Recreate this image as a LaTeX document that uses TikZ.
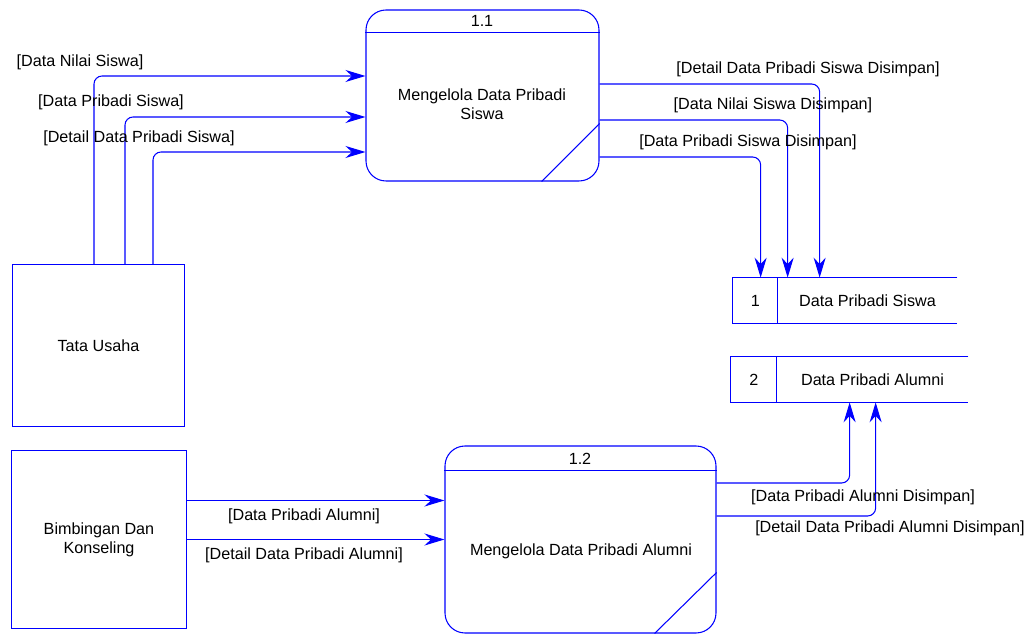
\documentclass[tikz,border=0pt]{standalone}
\usepackage{fontspec}
\setmainfont{Liberation Sans}
\usetikzlibrary{arrows.meta,positioning}
\def \px {0.02cm}

\begin{document}
\begin{tikzpicture}[x=\px,y=-\px,
    every node/.style={font=\fontsize{9.2}{11}\selectfont,inner sep=0},
    entity/.style={draw=blue,line width=0.6pt,align=center},
    process/.style={draw=blue,line width=0.6pt,rounded corners=20*\px},
    store/.style={minimum height=45*\px},
    line/.style={draw=blue,line width=0.6pt},
    flow/.style={line,rounded corners=8*\px,-{Stealth[length=0.4cm,width=0.24cm]}}]
    \useasboundingbox (0,0) rectangle (1029,634);
    % external entities
    \node[entity,minimum width=172*\px,minimum height=162*\px] (tu) at (98.5,345.5) {Tata Usaha};
    \node[entity,minimum width=175*\px,minimum height=178*\px] (bk) at (99,539.5) {Bimbingan Dan\\Konseling};
    % processes
    \node[process,minimum width=233*\px,minimum height=171*\px] (p1) at (482.5,95.5) {};
    \node (p1id) at (482,21) {1.1};
    \node[align=center] (p1txt) at (482,104) {Mengelola Data Pribadi\\Siswa};
    \draw[line] ([yshift=-23*\px]p1.north west) -- ([yshift=-23*\px]p1.north east);
    \draw[line] ([xshift=-58*\px]p1.south east) -- ([yshift=58*\px]p1.south east);
    \node[process,minimum width=271*\px,minimum height=187*\px] (p2) at (580.5,539.5) {};
    \node (p2id) at (580,459) {1.2};
    \node (p2txt) at (581,551) {Mengelola Data Pribadi Alumni};
    \draw[line] ([yshift=-25*\px]p2.north west) -- ([yshift=-25*\px]p2.north east);
    \draw[line] ([xshift=-62*\px]p2.south east) -- ([yshift=61*\px]p2.south east);
    % data stores
    \node[store,minimum width=179*\px] (s1) at (867.5,300.5) {Data Pribadi Siswa};
    \node[store,minimum width=44*\px,left=0pt of s1] (s1id) {1};
    \draw[line] (s1.north east) -- (s1id.north west) -- (s1id.south west) -- (s1.south east)
        (s1id.north east) -- (s1id.south east);
    \node[store,minimum width=191*\px] (s2) at (872.5,379.5) {Data Pribadi Alumni};
    \node[store,minimum width=45*\px,left=0pt of s2] (s2id) {2};
    \draw[line] (s2.north east) -- (s2id.north west) -- (s2id.south west) -- (s2.south east)
        (s2id.north east) -- (s2id.south east);
    % flows
    \draw[flow] ([xshift=-4.5*\px]tu.north) |- ([yshift=19.5*\px]p1.west);
    \draw[flow] ([xshift=26.5*\px]tu.north) |- ([yshift=-21.5*\px]p1.west);
    \draw[flow] ([xshift=54.5*\px]tu.north) |- ([yshift=-56.5*\px]p1.west);
    \draw[flow] ([yshift=11.5*\px]p1.east) -| ([xshift=42*\px]s1.north west);
    \draw[flow] ([yshift=-24.5*\px]p1.east) -| ([xshift=10*\px]s1.north west);
    \draw[flow] ([yshift=-61.5*\px]p1.east) -| ([xshift=-17*\px]s1.north west);
    \draw[flow] ([yshift=39*\px]bk.east) -- ([yshift=39*\px]p2.west);
    \draw[flow] (bk.east) -- (p2.west);
    \draw[flow] ([yshift=56.5*\px]p2.east) -| ([xshift=73*\px]s2.south west);
    \draw[flow] ([yshift=23.5*\px]p2.east) -| ([xshift=99*\px]s2.south west);
    % flow labels
    \node (l1) at (80,62) {[Data Nilai Siswa]};
    \node (l2) at (111,102) {[Data Pribadi Siswa]};
    \node (l3) at (139,138) {[Detail Data Pribadi Siswa]};
    \node (l4) at (808,69) {[Detail Data Pribadi Siswa Disimpan]};
    \node (l5) at (773,105) {[Data Nilai Siswa Disimpan]};
    \node (l6) at (748,142) {[Data Pribadi Siswa Disimpan]};
    \node (l7) at (304,516) {[Data Pribadi Alumni]};
    \node (l8) at (304,555) {[Detail Data Pribadi Alumni]};
    \node (l9) at (863,497) {[Data Pribadi Alumni Disimpan]};
    \node (l10) at (890,528) {[Detail Data Pribadi Alumni Disimpan]};
\end{tikzpicture}
\end{document}
